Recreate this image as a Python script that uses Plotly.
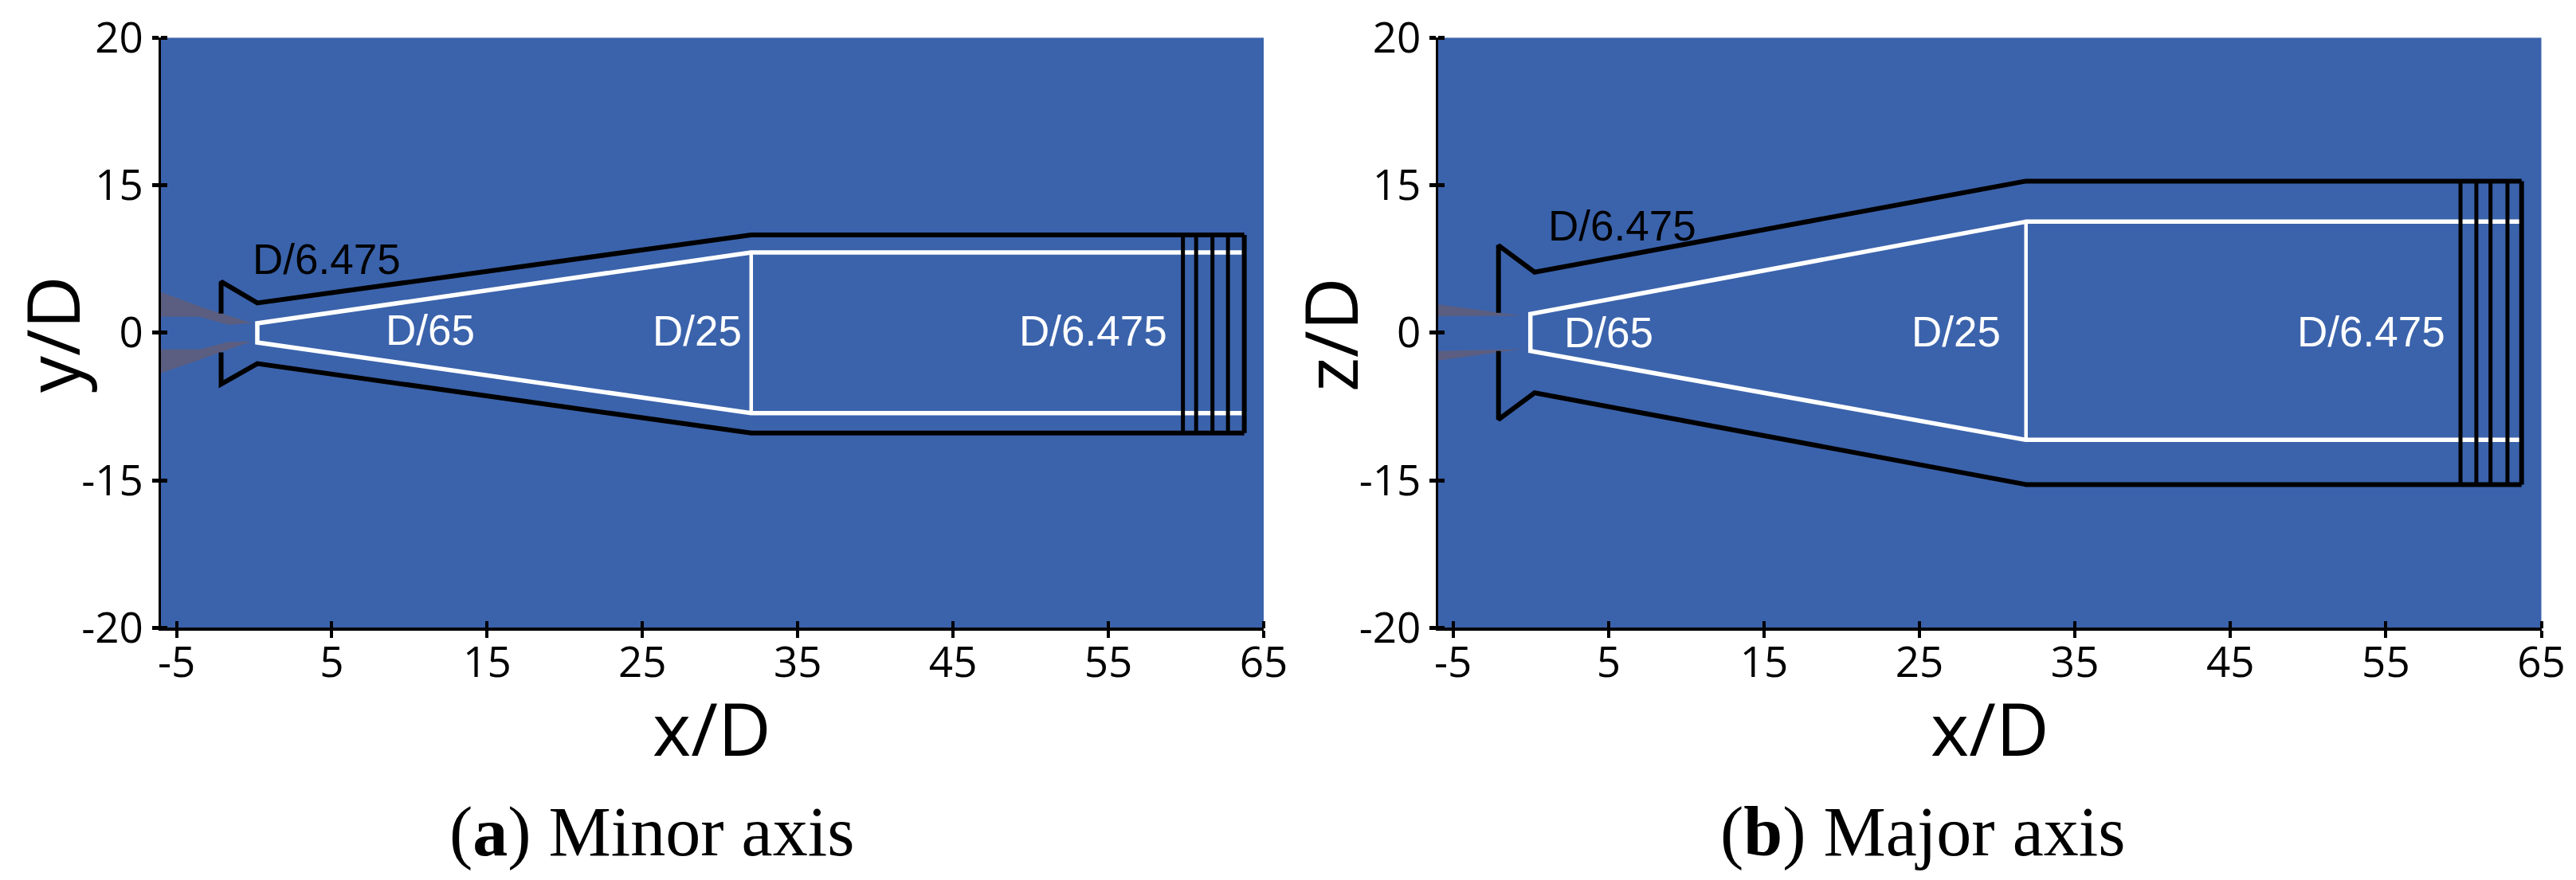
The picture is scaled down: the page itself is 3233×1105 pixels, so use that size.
import plotly.graph_objects as go

# Tick labels (the schematic's axes are labelled non-linearly at the ends)
x_tick_vals = [-5, 5, 15, 25, 35, 45, 55, 65]
x_tick_text = ["-5", "5", "15", "25", "35", "45", "55", "65"]
y_tick_vals = [-30, -15, 0, 15, 30]
y_tick_text = ["-20", "-15", "0", "15", "20"]

# (a) Minor axis outlines
minor_outer_top_x = [-2.13, -2.13, 0.2, 32.0, 63.75]
minor_outer_top_y = [1.96, 5.2, 3.03, 9.95, 9.95]
minor_outer_bot_x = [-2.13, -2.13, 0.2, 32.0, 63.75]
minor_outer_bot_y = [-2.0, -5.23, -3.14, -10.2, -10.2]
minor_inner_x = [63.6, 32.0, 0.2, 0.2, 32.0, 63.6]
minor_inner_y = [8.17, 8.17, 0.96, -0.99, -8.17, -8.17]
minor_inner_step_x = [32.0, 32.0]
minor_inner_step_y = [8.17, -8.17]
minor_block_x = [59.8, 60.65, 61.7, 62.7, 63.75]
minor_block_top = 9.95
minor_block_bot = -10.2
minor_wedge_up_x = [-6.03, -3.26, -0.13, -1.67, -3.51, -6.03]
minor_wedge_up_y = [4.15, 2.53, 0.99, 0.81, 1.62, 1.62]
minor_wedge_lo_x = [-6.03, -3.51, -0.13, -1.67, -3.51, -6.03]
minor_wedge_lo_y = [-4.12, -2.72, -0.86, -0.92, -1.7, -1.7]

# (b) Major axis outlines
major_outer_top_x = [-2.08, -2.08, 0.24, 31.85, 63.73]
major_outer_top_y = [2.03, 8.89, 6.16, 15.42, 15.42]
major_outer_bot_x = [-2.08, -2.08, 0.24, 31.85, 63.73]
major_outer_bot_y = [-1.85, -8.82, -6.11, -15.43, -15.43]
major_inner_x = [63.6, 31.85, -0.03, -0.03, 31.85, 63.6]
major_inner_y = [11.3, 11.3, 1.9, -1.85, -10.89, -10.89]
major_inner_step_x = [31.85, 31.85]
major_inner_step_y = [11.3, -10.89]
major_block_x = [59.8, 60.82, 61.73, 62.82, 63.73]
major_block_top = 15.42
major_block_bot = -15.43
major_wedge_up_x = [-5.96, -0.54, -5.96]
major_wedge_up_y = [2.89, 1.72, 1.68]
major_wedge_lo_x = [-5.96, -0.54, -5.96]
major_wedge_lo_y = [-2.83, -1.66, -1.85]

# Resolution labels: text, x, y
minor_labels = [("D/6.475", 4.67, 7.45, "black"), ("D/65", 11.36, 0.24, "white"),
                ("D/25", 28.54, 0.16, "white"), ("D/6.475", 54.03, 0.16, "white")]
major_labels = [("D/6.475", 5.86, 10.9, "black"), ("D/65", 5.02, 0.06, "white"),
                ("D/25", 27.33, 0.1, "white"), ("D/6.475", 54.07, 0.1, "white")]

W, H = 3233, 1105
BG = "#3B63AC"
GRAY = "#5B5E80"
TICK_FONT = dict(family="Open Sans", size=53, color="black")
TITLE_FONT = dict(family="Open Sans", size=92, color="black")

fig = go.Figure()


def line(xs, ys, color, width, ax):
    fig.add_trace(go.Scatter(x=xs, y=ys, mode="lines", line=dict(color=color, width=width),
                             xaxis=ax[0], yaxis=ax[1], hoverinfo="skip", showlegend=False))


def wedge(xs, ys, ax):
    fig.add_trace(go.Scatter(x=xs, y=ys, mode="lines", fill="toself", fillcolor=GRAY,
                             line=dict(width=0, color=GRAY), xaxis=ax[0], yaxis=ax[1],
                             hoverinfo="skip", showlegend=False))


panels = [
    (("x", "y"), minor_wedge_up_x, minor_wedge_up_y, minor_wedge_lo_x, minor_wedge_lo_y,
     minor_inner_x, minor_inner_y, minor_inner_step_x, minor_inner_step_y,
     minor_outer_top_x, minor_outer_top_y, minor_outer_bot_x, minor_outer_bot_y,
     minor_block_x, minor_block_top, minor_block_bot),
    (("x2", "y2"), major_wedge_up_x, major_wedge_up_y, major_wedge_lo_x, major_wedge_lo_y,
     major_inner_x, major_inner_y, major_inner_step_x, major_inner_step_y,
     major_outer_top_x, major_outer_top_y, major_outer_bot_x, major_outer_bot_y,
     major_block_x, major_block_top, major_block_bot),
]
for ax, wux, wuy, wlx, wly, ix, iy, sx, sy, otx, oty, obx, oby, bx, bt, bb in panels:
    wedge(wux, wuy, ax)
    wedge(wlx, wly, ax)
    line(ix, iy, "white", 5.5, ax)
    line(sx, sy, "white", 4.5, ax)
    line(otx, oty, "black", 6, ax)
    line(obx, oby, "black", 6, ax)
    for i, v in enumerate(bx):
        line([v, v], [bt, bb], "black", 6 if i == len(bx) - 1 else 5, ax)


def xaxis(dom, rng, anchor):
    return dict(domain=dom, range=rng, anchor=anchor, tickmode="array", tickvals=x_tick_vals,
                ticktext=x_tick_text, ticks="outside", ticklen=9, tickwidth=4, tickcolor="black",
                minor=dict(ticks="inside", tickmode="array", tickvals=x_tick_vals, ticklen=9,
                           tickwidth=4, tickcolor="black"),
                showline=True, linecolor="black", linewidth=3.5, showgrid=False, zeroline=False,
                tickfont=TICK_FONT, tickangle=0, automargin=False, ticklabelstandoff=-15)


def yaxis(anchor):
    return dict(domain=[1 - 788.3 / H, 1 - 47.4 / H], range=[-30, 30], anchor=anchor,
                tickmode="array", tickvals=y_tick_vals, ticktext=y_tick_text,
                ticks="outside", ticklen=8, tickwidth=5, tickcolor="black",
                minor=dict(ticks="inside", tickmode="array", tickvals=y_tick_vals, ticklen=8,
                           tickwidth=5, tickcolor="black"),
                showline=True, linecolor="black", linewidth=3, showgrid=False, zeroline=False,
                tickfont=TICK_FONT, automargin=False)


annotations = []
for labels, xr, yr in ((minor_labels, "x", "y"), (major_labels, "x2", "y2")):
    for text, lx, ly, color in labels:
        annotations.append(dict(text=text, x=lx, y=ly, xref=xr, yref=yr, showarrow=False,
                                font=dict(family="Liberation Sans", size=53, color=color)))
# Axis titles
for text, cx, cy, angle in (("x/D", 893, 914, 0), ("x/D", 2497, 914, 0),
                            ("y/D", 64, 420, -90), ("z/D", 1668, 420, -90)):
    annotations.append(dict(text=text, x=cx / W, y=1 - cy / H, xref="paper", yref="paper",
                            showarrow=False, xanchor="center", yanchor="middle", textangle=angle,
                            font=TITLE_FONT))
# Panel captions
for text, cx in (("(<b>a</b>) Minor axis", 817.5), ("(<b>b</b>) Major axis", 2413)):
    annotations.append(dict(text=text, x=cx / W, y=1 - 1044 / H, xref="paper", yref="paper",
                            showarrow=False, xanchor="center", yanchor="middle",
                            font=dict(family="Liberation Serif", size=88, color="black")))

fig.update_layout(
    width=W, height=H, autosize=False,
    margin=dict(l=0, r=0, t=0, b=0),
    paper_bgcolor="white", plot_bgcolor=BG, showlegend=False,
    xaxis=xaxis([201.5 / W, 1586 / W], [-6.03, 65], "y"),
    yaxis=yaxis("x"),
    xaxis2=xaxis([1805 / W, 3189.5 / W], [-5.96, 65], "y2"),
    yaxis2=yaxis("x2"),
    annotations=annotations,
)

fig.write_html("out.html", config=dict(displayModeBar=False),
               post_script="document.body.style.margin='0';document.documentElement.style.overflow='hidden';")
